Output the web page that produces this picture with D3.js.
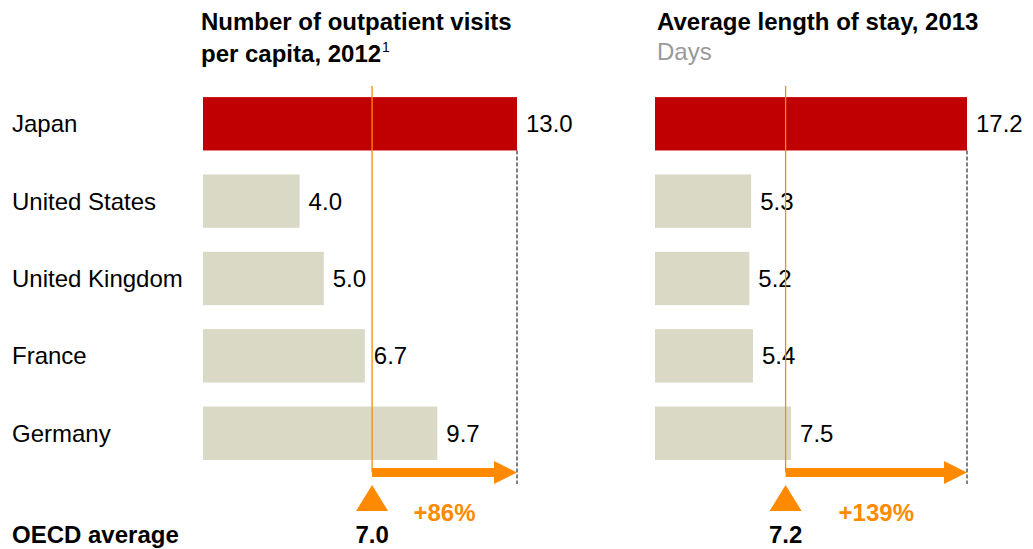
<!DOCTYPE html>
<html>
<head>
<meta charset="utf-8">
<script src="https://cdn.jsdelivr.net/npm/d3@7"></script>
<style>
  html, body { margin: 0; padding: 0; background: #fff; }
  svg { display: block; font-family: "Liberation Sans", Arial, sans-serif; }
</style>
</head>
<body>
<svg id="chart" width="1033" height="549"></svg>
<script>
// Countries, top to bottom
const countries = ["Japan", "United States", "United Kingdom", "France", "Germany"];
// Outpatient visits per capita, 2012
const visits = [13.0, 4.0, 5.0, 6.7, 9.7];
// Average length of stay, 2013 (days)
const stay = [17.2, 5.3, 5.2, 5.4, 7.5];
// OECD averages for the two measures
const oecdAvg = [7.0, 7.2];
// Japan relative to the OECD average
const gapLabels = ["+86%", "+139%"];

const RED = "#C00000", BEIGE = "#DAD9C6", ORANGE = "#FF8A00";
const FS = 24;

const svg = d3.select("#chart");

const y = d3.scaleBand().domain(countries).range([85.5, 471.5]).paddingInner(0.31).paddingOuter(0.15);

// Country labels
svg.append("g").selectAll("text").data(countries).join("text")
  .attr("x", 12)
  .attr("y", d => y(d) + y.bandwidth() / 2)
  .attr("dy", "0.36em")
  .attr("font-size", FS)
  .attr("fill", "#000")
  .text(d => d);

// OECD average row label
svg.append("text")
  .attr("x", 12).attr("y", 543)
  .attr("font-size", FS).attr("font-weight", "bold")
  .text("OECD average");

const panels = [
  { values: visits, avg: oecdAvg[0], gap: gapLabels[0], range: [203, 517], titleX: 201,
    title: ["Number of outpatient visits", "per capita, 2012"], sup: "1", sub: null },
  { values: stay, avg: oecdAvg[1], gap: gapLabels[1], range: [655, 967], titleX: 657,
    title: ["Average length of stay, 2013"], sup: null, sub: "Days" }
];

panels.forEach(p => {
  const x = d3.scaleLinear().domain([0, d3.max(p.values)]).range(p.range);
  const g = svg.append("g");

  // Title
  const t = g.append("text").attr("x", p.titleX).attr("y", 30)
    .attr("font-size", FS).attr("font-weight", "bold").attr("fill", "#000");
  p.title.forEach((line, i) => {
    t.append("tspan").attr("x", p.titleX).attr("dy", i === 0 ? 0 : 32).text(line);
  });
  if (p.sup) {
    t.append("tspan").attr("font-size", 14).attr("font-weight", "normal")
      .attr("dx", 1).attr("dy", -10).text(p.sup);
  }
  if (p.sub) {
    g.append("text").attr("x", p.titleX).attr("y", 60)
      .attr("font-size", FS).attr("fill", "#999").text(p.sub);
  }

  const rows = countries.map((c, i) => ({ c, v: p.values[i] }));
  const maxV = d3.max(p.values);

  // Bars
  g.append("g").selectAll("rect").data(rows).join("rect")
    .attr("x", x(0))
    .attr("y", d => y(d.c))
    .attr("width", d => x(d.v) - x(0))
    .attr("height", y.bandwidth())
    .attr("fill", d => d.v === maxV ? RED : BEIGE);

  // Value labels
  g.append("g").selectAll("text").data(rows).join("text")
    .attr("x", d => x(d.v) + 9)
    .attr("y", d => y(d.c) + y.bandwidth() / 2)
    .attr("dy", "0.36em")
    .attr("font-size", FS)
    .text(d => d3.format(".1f")(d.v));

  const ax = x(p.avg), mx = x(maxV);
  const arrowY = 472.5;

  // Dashed marker from the top bar's end down to the arrow
  g.append("line")
    .attr("x1", mx).attr("x2", mx)
    .attr("y1", y(countries[0]) + y.bandwidth()).attr("y2", 484)
    .attr("stroke", "#000").attr("stroke-width", 1).attr("stroke-dasharray", "4,2");

  // OECD average reference line
  g.append("line")
    .attr("x1", ax).attr("x2", ax)
    .attr("y1", 86).attr("y2", arrowY)
    .attr("stroke", ORANGE).attr("stroke-width", 1.3);

  // Gap arrow
  g.append("rect")
    .attr("x", ax).attr("y", arrowY - 4.5)
    .attr("width", mx - 22 - ax).attr("height", 9)
    .attr("fill", ORANGE);
  g.append("path")
    .attr("d", `M${mx - 23},${arrowY - 11.5} L${mx},${arrowY} L${mx - 23},${arrowY + 11.5} Z`)
    .attr("fill", ORANGE);

  // Average marker triangle
  g.append("path")
    .attr("d", `M${ax},485 L${ax + 16},511 L${ax - 16},511 Z`)
    .attr("fill", ORANGE);

  // Average value
  g.append("text").attr("x", ax).attr("y", 543)
    .attr("text-anchor", "middle")
    .attr("font-size", FS).attr("font-weight", "bold")
    .text(d3.format(".1f")(p.avg));

  // Gap percentage
  g.append("text").attr("x", (ax + mx) / 2).attr("y", 521)
    .attr("text-anchor", "middle")
    .attr("font-size", FS).attr("font-weight", "bold").attr("fill", ORANGE)
    .text(p.gap);
});
</script>
</body>
</html>
